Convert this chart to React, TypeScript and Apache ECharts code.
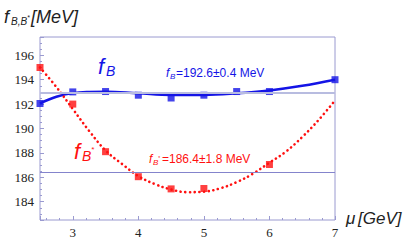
import React, { useEffect, useRef } from "react";
import * as echarts from "echarts";

// smooth fit curves
const muCurveB = [2.5, 2.75, 3, 3.25, 3.5, 4, 4.5, 5, 5.5, 6, 6.5, 7];
const fBCurve = [192.05, 192.6, 192.9, 193.0, 193.02, 192.88, 192.75, 192.75, 192.88, 193.12, 193.5, 194.0];
const muCurveBs = [2.5, 2.75, 3, 3.25, 3.5, 3.75, 4, 4.25, 4.5, 4.75, 5, 5.25, 5.5, 5.75, 6, 6.25, 6.5, 6.75, 7];
const fBsCurve = [195.0, 193.4, 191.6, 189.8, 188.2, 187.1, 186.1, 185.45, 185.0, 184.78, 184.82, 185.1, 185.6, 186.3, 187.2, 188.1, 189.3, 190.7, 192.3];
// data points
const muB = [2.5, 3, 3.5, 4, 4.5, 5, 5.5, 6, 7];
const fBPoints = [192.05, 193.0, 193.03, 192.73, 192.5, 192.73, 193.03, 193.03, 194.0];
const muBs = [2.5, 3, 3.5, 4, 4.5, 5, 6];
const fBsPoints = [195.0, 192.0, 188.1, 186.05, 185.05, 185.08, 187.05];
// averages
const fBLine = 192.95;
const fBsLine = 186.4;

const BLUE = "#1414e6";
const RED = "#ff1010";

export default function App() {
  const ref = useRef<HTMLDivElement>(null);
  useEffect(() => {
    const chart = echarts.init(ref.current!, undefined, { renderer: "svg" });
    const sans = "Liberation Sans";
    const txt = (x: number, y: number, text: string, size: number, color: string, italic = true) => ({
      type: "text",
      x,
      y,
      silent: true,
      style: {
        text,
        fill: color,
        font: `${italic ? "italic " : ""}${size}px ${sans}`,
        textVerticalAlign: "middle",
      },
    });
    chart.setOption({
      animation: false,
      grid: { left: 40, right: 72, top: 37, bottom: 32, show: true, borderColor: "#9a9ad0", borderWidth: 1 },
      xAxis: {
        type: "value",
        min: 2.5,
        max: 7,
        splitNumber: 5,
        axisLine: { show: false },
        axisTick: { show: true, inside: true, length: 4, lineStyle: { color: "#9a9ad0" } },
        minorTick: { show: true, splitNumber: 5, length: 2, lineStyle: { color: "#9a9ad0" } },
        splitLine: { show: false },
        axisLabel: { showMinLabel: false, color: "#222", fontFamily: "Liberation Serif", fontSize: 13, margin: 6 },
      },
      yAxis: {
        type: "value",
        min: 182.5,
        max: 197.5,
        splitNumber: 7,
        axisLine: { show: false },
        axisTick: { show: true, inside: true, length: 4, lineStyle: { color: "#9a9ad0" } },
        minorTick: { show: true, splitNumber: 4, length: 2, lineStyle: { color: "#9a9ad0" } },
        splitLine: { show: false },
        axisLabel: { showMinLabel: false, showMaxLabel: false, color: "#222", fontFamily: "Liberation Serif", fontSize: 13, margin: 6 },
      },
      series: [
        {
          type: "line",
          data: [],
          silent: true,
          markLine: {
            symbol: "none",
            silent: true,
            label: { show: false },
            data: [
              { yAxis: fBLine, lineStyle: { color: "#b8bce0", width: 2, type: "solid" } },
              { yAxis: fBsLine, lineStyle: { color: "#8484cc", width: 1, type: "solid" } },
            ],
          },
        },
        {
          type: "line",
          data: muCurveB.map((m, i) => [m, fBCurve[i]]),
          smooth: 0.4,
          showSymbol: false,
          lineStyle: { color: BLUE, width: 2.5 },
          z: 3,
        },
        {
          type: "line",
          data: muCurveBs.map((m, i) => [m, fBsCurve[i]]),
          smooth: 0.4,
          showSymbol: false,
          lineStyle: { color: RED, width: 2.6, type: [0.1, 4.6], cap: "round" },
          z: 3,
        },
        {
          type: "scatter",
          data: muB.map((m, i) => [m, fBPoints[i]]),
          symbol: "rect",
          symbolSize: 7,
          itemStyle: { color: BLUE },
          z: 4,
        },
        {
          type: "scatter",
          data: muBs.map((m, i) => [m, fBsPoints[i]]),
          symbol: "rect",
          symbolSize: 7,
          itemStyle: { color: RED },
          z: 4,
        },
      ],
      graphic: [
        // y title
        txt(4, 17, "f", 18, "#222"),
        txt(11, 21, "B,B", 10, "#222"),
        txt(27, 17, "*", 7, "#222"),
        txt(31, 17, "[MeV]", 18, "#222"),
        // x title
        txt(346, 218, "μ", 17, "#222"),
        txt(358, 218, "[GeV]", 17, "#222"),
        // f_B label
        txt(98, 66, "f", 22, BLUE),
        txt(106, 71, "B", 14, BLUE),
        // f_B* label
        txt(74, 151, "f", 22, RED),
        txt(82, 156, "B", 14, RED),
        txt(91, 149, "*", 8, RED),
        // f_B annotation
        txt(166, 73, "f", 12, BLUE),
        txt(170, 76, "B", 8, BLUE),
        txt(176, 73, "=192.6±0.4 MeV", 12, BLUE, false),
        // f_B* annotation
        txt(149, 159, "f", 12, RED),
        txt(153, 162, "B", 8, RED),
        txt(158, 158, "*", 5, RED),
        txt(162, 159, "=186.4±1.8 MeV", 12, RED, false),
      ],
    });
    return () => chart.dispose();
  }, []);
  return <div ref={ref} style={{ width: 407, height: 252, position: "absolute", left: 0, top: 0 }} />;
}
